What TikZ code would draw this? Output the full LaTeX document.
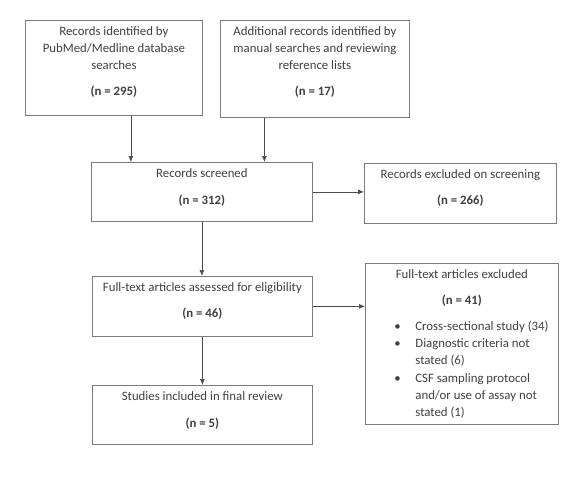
\documentclass[tikz,border=0pt]{standalone}
\usepackage{fontspec}
\setmainfont{Carlito}
\usetikzlibrary{arrows.meta}
\definecolor{txt}{HTML}{404040}
\definecolor{frame}{HTML}{7A7A7A}
\definecolor{arrowc}{HTML}{4A4A4A}
\newcommand{\firstline}{\rule{0pt}{15.4pt}}
\newcommand{\boxtext}[3]{\parbox[c][#2][t]{#1}{\centering\firstline #3}}
\begin{document}
\begin{tikzpicture}[x=1pt,y=-1pt,
  box/.style={draw=frame,line width=0.8pt,inner sep=0pt,anchor=north west,
    font=\fontsize{12.8}{16.8}\selectfont,text=txt},
  arr/.style={draw=arrowc,line width=0.7pt,-{Latex[length=6pt,width=5pt]}}]
\useasboundingbox (0,0) rectangle (587,480);
\fill[white] (0,0) rectangle (587,480);

\node[box] (pub) at (25,20) {\boxtext{177pt}{95pt}{Records identified by\\ PubMed/Medline database\\ searches\\[9.7pt] \textbf{(n = 295)}}};
\node[box] (add) at (220,20) {\boxtext{189pt}{97pt}{Additional records identified by\\ manual searches and reviewing\\ reference lists\\[9.7pt] \textbf{(n = 17)}}};
\node[box] (scr) at (91,162) {\boxtext{221pt}{59pt}{Records screened\\[9.7pt] \textbf{(n = 312)}}};
\node[box] (exs) at (364,163) {\boxtext{192pt}{60pt}{Records excluded on screening\\[9.2pt] \textbf{(n = 266)}}};
\node[box] (ful) at (92,276) {\boxtext{220pt}{60pt}{Full-text articles assessed for eligibility\\[9.2pt] \textbf{(n = 46)}}};
\node[box] (exf) at (365,263) {\parbox[c][161pt][t]{193pt}{\raggedright\fontsize{12.8}{17.3}\selectfont
  \makebox[193pt][c]{\firstline Full-text articles excluded}\\[8.4pt]
  \makebox[193pt][c]{\textbf{(n = 41)}}\\[8.4pt]
  \hspace*{29pt}\makebox[21pt][l]{\textbullet}Cross-sectional study (34)\\
  \hspace*{29pt}\makebox[21pt][l]{\textbullet}Diagnostic criteria not\\
  \hspace*{50pt}stated (6)\\
  \hspace*{29pt}\makebox[21pt][l]{\textbullet}CSF sampling protocol\\
  \hspace*{50pt}and/or use of assay not\\
  \hspace*{50pt}stated (1)}};
\node[box] (stu) at (92,385) {\boxtext{220pt}{59pt}{Studies included in final review\\[9.7pt] \textbf{(n = 5)}}};

\draw[arr] ([xshift=17pt]pub.south) -- ([xshift=17pt]pub.south |- scr.north);
\draw[arr] ([xshift=-50.5pt]add.south) -- ([xshift=-50.5pt]add.south |- scr.north);
\draw[arr] (scr.east) -- (scr.east -| exs.west);
\draw[arr] (scr.south) -- (scr.south |- ful.north);
\draw[arr] (ful.east) -- (ful.east -| exf.west);
\draw[arr] (ful.south) -- (ful.south |- stu.north);
\end{tikzpicture}
\end{document}
